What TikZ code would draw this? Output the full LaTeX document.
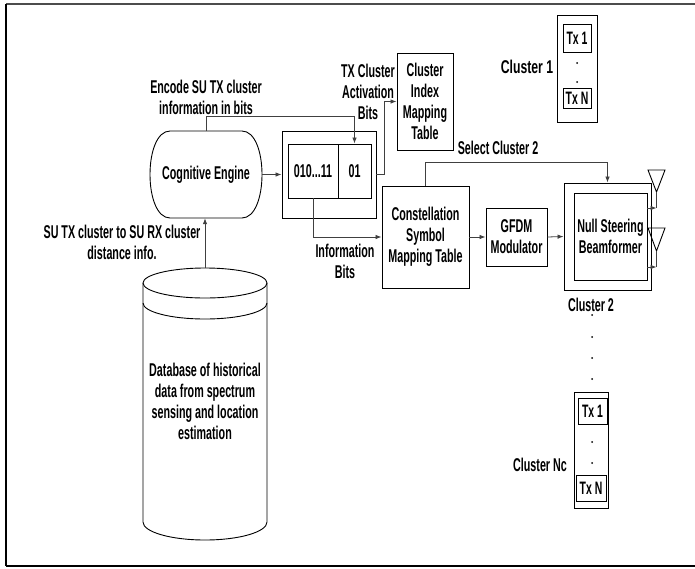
\documentclass[tikz,border=0pt]{standalone}
\usepackage{fontspec}
\setmainfont[FakeStretch=0.58]{Liberation Sans}
\newfontfamily\clfont[FakeStretch=0.66]{Liberation Sans}
\usetikzlibrary{arrows.meta,calc}
\begin{document}
\begin{tikzpicture}[x=1pt,y=-1pt,
 box/.style={draw=black,line width=0.9pt,inner sep=0pt,align=center,font=\bfseries\fontsize{18.5}{21}\selectfont},
 lbl/.style={inner sep=0pt,align=center,font=\bfseries\fontsize{18.5}{21}\selectfont},
 cl/.style={inner sep=0pt,font=\clfont\bfseries\fontsize{18.5}{21}\selectfont},
 tx/.style={draw,line width=0.8pt,inner sep=0pt,font=\bfseries\fontsize{18}{18}\selectfont},
 frame/.style={draw,line width=0.9pt,inner sep=0pt},
 conn/.style={draw=black!75,line width=0.8pt},
 arr/.style={conn,-{Latex[length=6pt,width=4.5pt]}},
 outl/.style={line width=0.9pt}
]
\useasboundingbox (0,0) rectangle (695,568);
% page border
\draw[black!70,line width=2pt] (6,4) -- (695,4);
\draw[black,line width=2pt] (6,4) -- (6,566);
\draw[black,line width=1.5pt] (6,566) -- (695,566);

% Cognitive engine
\node[lbl,minimum width=112pt,minimum height=87pt] (ce) at (206,174.5) {Cognitive Engine};
\draw[outl] (170,131) -- (242,131) .. controls (255,131) and (262,152) .. (262,174.5)
  .. controls (262,197) and (255,218) .. (242,218) -- (170,218)
  .. controls (157,218) and (150,197) .. (150,174.5)
  .. controls (150,152) and (157,131) .. (170,131) -- cycle;

% bit frame
\node[frame,minimum width=94pt,minimum height=87pt] (frm) at (329,174.5) {};
\node[box,minimum width=50pt,minimum height=54pt] (b1) at (313,171) {010...11};
\node[box,minimum width=33pt,minimum height=54pt] (b2) at (354.5,171) {01};

% tables and blocks
\node[box,minimum width=56pt,minimum height=97pt] (cim) at (425,101.5) {Cluster\\Index\\Mapping\\Table};
\node[box,minimum width=87pt,minimum height=102pt] (csm) at (425.5,237) {Constellation\\Symbol\\Mapping Table};
\node[box,minimum width=61pt,minimum height=58pt] (gfdm) at (516.5,237) {GFDM\\Modulator};
\node[frame,minimum width=87pt,minimum height=107pt] (bf) at (607.5,236.5) {};
\node[box,minimum width=73pt,minimum height=87pt] (bfi) at (610.5,236.5) {Null Steering\\Beamformer};

% antennas
\draw[outl] (648,170) -- (665,170) -- (656.5,192) -- cycle;
\draw[conn] (656.5,192) -- (656.5,208) coordinate (a1);
\draw[arr] (bfi.east |- a1) -- (a1);
\draw[outl] (648,228) -- (665,228) -- (656.5,251) -- cycle;
\draw[conn] (656.5,251) -- (656.5,267) coordinate (a2);
\draw[arr] (bfi.east |- a2) -- (a2);

% database cylinder
\draw[outl] (205,283) ellipse [x radius=62, y radius=15];
\draw[outl] (143,283) -- (143,522) arc[start angle=180,end angle=0,x radius=62,y radius=18] -- (267,283);
\draw[outl] (143,303) arc[start angle=180,end angle=0,x radius=62,y radius=16];
\node[lbl,minimum width=124pt,minimum height=266pt] (db) at (205,401) {Database of historical\\data from spectrum\\sensing and location\\estimation};

% connectors
\draw[arr] (db.north) -- (db.north |- ce.south);
\draw[arr] (ce.east) -- (frm.west);
\draw[arr] (ce.north) -- ++(0,-14) -| (b2.north);
\draw[arr] (frm.east) -- ++(8,0) |- (cim.west);
\draw[arr] (b1.south) |- (csm.west);
\draw[arr] (csm.north) -- ++(0,-23) -| (bf.north);
\draw[arr] (csm.east) -- (gfdm.west);
\draw[arr] (gfdm.east) -- (bf.west);

% labels
\node[lbl] (sul) at (122,242) {SU TX cluster to SU RX cluster\\distance info.};
\node[lbl] (encl) at (206,97) {Encode SU TX cluster\\information in bits};
\node[lbl] (tcl) at (368,92) {TX Cluster\\Activation\\Bits};
\node[lbl] (ibl) at (345,261) {Information\\Bits};
\node[lbl] (scl) at (498,148) {Select Cluster 2};

% cluster 1
\node[frame,minimum width=40pt,minimum height=107pt] (c1) at (577,68.5) {};
\node[tx,minimum width=28pt,minimum height=28pt] (c1t1) at (577,38) {Tx 1};
\node[tx,minimum width=28pt,minimum height=20pt] (c1tn) at (577,98.5) {Tx N};
\fill (577,63) circle (1pt);
\fill (577,82) circle (1pt);
\node[cl] (c1l) at (527,67) {Cluster 1};

% cluster 2 label and dots
\node[lbl] (c2l) at (591,305) {Cluster 2};
\fill (592,315) circle (1pt);
\fill (592,337) circle (1pt);
\fill (592,358) circle (1pt);
\fill (592,379) circle (1pt);

% cluster Nc
\node[frame,minimum width=34pt,minimum height=116pt] (cn) at (591,450) {};
\node[tx,minimum width=29pt,minimum height=26pt] (cnt1) at (592.5,411) {Tx 1};
\node[tx,minimum width=30pt,minimum height=26pt] (cntn) at (591,488) {Tx N};
\fill (592,442) circle (1pt);
\fill (592,463) circle (1pt);
\node[lbl] (cnl) at (540,465) {Cluster Nc};
\end{tikzpicture}
\end{document}
